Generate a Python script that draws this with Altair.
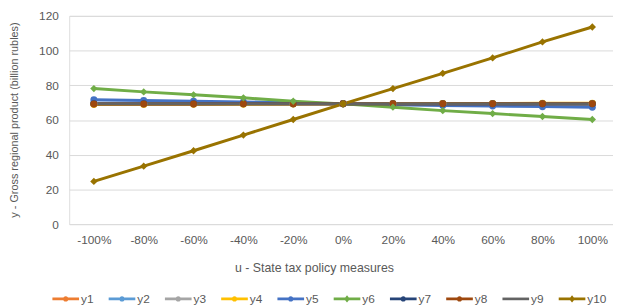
import altair as alt
import pandas as pd

u_values = [-100, -80, -60, -40, -20, 0, 20, 40, 60, 80, 100]

series_names = ["y1", "y2", "y3", "y4", "y5", "y6", "y7", "y8", "y9", "y10"]
series_colors = ["#ED7D31", "#5B9BD5", "#A5A5A5", "#FFC000", "#4472C4",
                 "#70AD47", "#264478", "#9E480E", "#636363", "#997300"]
series_markers = ["circle", "circle", "circle", "circle", "circle",
                  "diamond", "circle", "circle", "none", "diamond"]

y1 = [69.3, 69.3, 69.3, 69.3, 69.3, 69.3, 69.3, 69.3, 69.3, 69.3, 69.3]
y2 = [69.6, 69.6, 69.5, 69.5, 69.4, 69.3, 69.3, 69.2, 69.2, 69.1, 69.1]
y3 = [69.3, 69.3, 69.3, 69.3, 69.3, 69.3, 69.3, 69.3, 69.3, 69.3, 69.3]
y4 = [68.9, 69.0, 69.1, 69.1, 69.2, 69.3, 69.4, 69.5, 69.5, 69.6, 69.7]
y5 = [71.7, 71.2, 70.8, 70.4, 70.0, 69.3, 68.8, 68.3, 68.0, 67.7, 67.4]
y6 = [78.1, 76.2, 74.5, 72.8, 70.8, 69.3, 67.4, 65.4, 63.7, 62.0, 60.3]
y7 = [69.3, 69.3, 69.3, 69.3, 69.3, 69.3, 69.3, 69.3, 69.3, 69.3, 69.3]
y8 = [69.2, 69.2, 69.2, 69.3, 69.3, 69.3, 69.3, 69.3, 69.4, 69.4, 69.4]
y9 = [69.3, 69.3, 69.3, 69.3, 69.3, 69.3, 69.3, 69.3, 69.3, 69.3, 69.3]
y10 = [24.6, 33.4, 42.3, 51.3, 60.3, 69.3, 78.1, 86.9, 95.8, 105.0, 113.6]

y_ticks = [0, 20, 40, 60, 80, 100, 120]

all_series = [y1, y2, y3, y4, y5, y6, y7, y8, y9, y10]
rows = []
for i, (name, vals) in enumerate(zip(series_names, all_series)):
    for u, v in zip(u_values, vals):
        rows.append({"series": name, "idx": i, "u": u, "value": v,
                     "marker": series_markers[i]})
df = pd.DataFrame(rows)

# legend symbols: line segment + marker (custom paths in [-1,1] space)
bar = "M-1,-0.1 L1,-0.1 L1,0.1 L-1,0.1 Z"
circ = " M0.2,0 A0.2,0.2 0 1,1 -0.2,0 A0.2,0.2 0 1,1 0.2,0 Z"
diam = " M0,-0.27 L0.22,0 L0,0.27 L-0.22,0 Z"
legend_paths = []
for m in series_markers:
    if m == "circle":
        legend_paths.append(bar + circ)
    elif m == "diamond":
        legend_paths.append(bar + diam)
    else:
        legend_paths.append(bar)

font = "Liberation Sans"
txt = "#595959"

color_scale = alt.Scale(domain=series_names, range=series_colors)
shape_scale = alt.Scale(domain=series_names, range=legend_paths)

leg = alt.Legend(title=None, orient="none", direction="horizontal",
                 legendX=-17, legendY=273, symbolSize=729,
                 symbolStrokeWidth=0, symbolOpacity=1, labelFont=font,
                 labelFontSize=12, labelColor=txt,
                 labelOffset=2, columnPadding=15, columns=10)

x_enc = alt.X("u:Q",
              scale=alt.Scale(domain=[-109.9, 108.3], nice=False, zero=False),
              axis=alt.Axis(values=u_values, labelExpr="datum.value + '%'",
                            grid=False, ticks=False, domain=False, labelOverlap=False,
                            labelPadding=11, labelFontSize=12, labelColor=txt,
                            labelFont=font, title="u - State tax policy measures",
                            titleFont=font, titleFontSize=12.5, titleFontWeight="normal",
                            titleColor=txt, titleX=248, titleY=38))
y_enc = alt.Y("value:Q",
              scale=alt.Scale(domain=[0, 120], nice=False),
              axis=alt.Axis(values=y_ticks, tickCount=7, grid=True, gridColor="#D9D9D9",
                            gridWidth=1, ticks=False, domain=False, labelOverlap=False,
                            labelPadding=11, labelFontSize=12, labelColor=txt,
                            labelFont=font,
                            title="y - Gross regional product (billion rubles)",
                            titleFont=font, titleFontSize=11, titleFontWeight="normal",
                            titleColor=txt, titleX=-50, titleY=105))

base = alt.Chart(df)

lines = base.mark_line(strokeWidth=3).encode(
    x=x_enc, y=y_enc,
    color=alt.Color("series:N", scale=color_scale, legend=leg),
    detail="idx:Q",
    order="u:Q",
)

circles = base.transform_filter("datum.marker == 'circle'").mark_point(
    shape="circle", filled=True, size=50, opacity=1
).encode(
    x=x_enc, y=y_enc,
    color=alt.Color("series:N", scale=color_scale, legend=leg),
)

diamonds = base.transform_filter("datum.marker == 'diamond'").mark_point(
    shape="diamond", filled=True, size=55, opacity=1
).encode(
    x=x_enc, y=y_enc,
    color=alt.Color("series:N", scale=color_scale, legend=leg),
)

legend_layer = base.transform_filter("false").mark_point(filled=True, opacity=1).encode(
    x=x_enc, y=y_enc,
    color=alt.Color("series:N", scale=color_scale, legend=leg),
    shape=alt.Shape("series:N", scale=shape_scale, legend=leg),
)

chart = alt.layer(lines, circles, diamonds, legend_layer).properties(
    width=551, height=211,
    autosize=alt.AutoSizeParams(type="none"),
    padding={"left": 62, "top": 6, "right": 0, "bottom": 83},
).configure_view(stroke=None).configure(background="white")

chart.save("out.html", embed_options={"renderer": "svg", "actions": False})
